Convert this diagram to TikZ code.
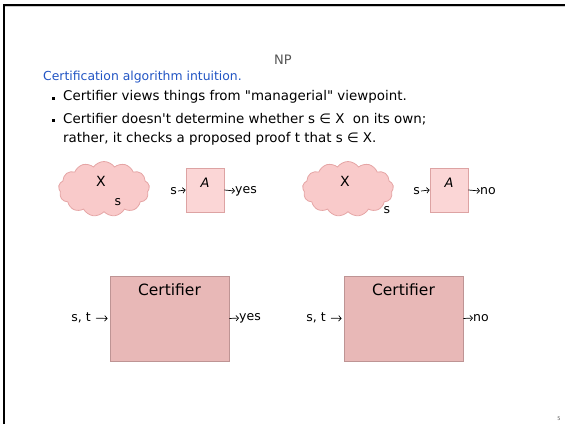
\documentclass[tikz,border=0pt]{standalone}
\usepackage{fontspec}
\setmainfont{DejaVu Sans}[Ligatures=TeXOff]
\usetikzlibrary{shapes.symbols,arrows.meta}
\definecolor{titlegray}{HTML}{555555}
\definecolor{headblue}{HTML}{2255C4}
\definecolor{cloudfill}{HTML}{F9CACA}
\definecolor{clouddraw}{HTML}{E5A5A5}
\definecolor{afill}{HTML}{FBD6D6}
\definecolor{adraw}{HTML}{DDA3A3}
\definecolor{certfill}{HTML}{E8B8B7}
\definecolor{certdraw}{HTML}{BE9494}
\begin{document}
\begin{tikzpicture}[x=1pt,y=-1pt,
  body/.style={font=\fontsize{13.4}{16}\selectfont, inner sep=0pt},
  lbl/.style={font=\fontsize{12.5}{15}\selectfont, inner sep=0pt},
  cloudsty/.style={cloud, cloud puffs=13, cloud puff arc=110, aspect=1.6,
    minimum width=91pt, minimum height=55pt, inner sep=0pt,
    fill=cloudfill, draw=clouddraw, line width=0.8pt},
  abox/.style={rectangle, minimum width=38pt, minimum height=44pt,
    fill=afill, draw=adraw, line width=0.8pt, inner sep=0pt},
  certbox/.style={rectangle, minimum width=119pt, minimum height=85pt,
    fill=certfill, draw=certdraw, line width=0.8pt, inner sep=0pt},
  arr/.style={-{Straight Barb[length=2.5pt,width=5.5pt]}, line width=0.7pt},
  bullet/.style={rectangle, fill=black, minimum size=3pt, inner sep=0pt}
]
\useasboundingbox (0,0) rectangle (565,424);
% frame
\draw[line width=2pt] (4,424) -- (4,5) -- (565,5);
\draw[gray!40, line width=0.6pt] (5,6.6) -- (565,6.6);

% title and text
\node[font=\fontsize{13}{15}\selectfont, text=titlegray, inner sep=0pt] (np) at (283,60) {NP};
\node[font=\fontsize{12.4}{15}\selectfont, inner sep=0pt, text=headblue, anchor=west] (head) at (43,77) {Certification algorithm intuition.};
\node[bullet] (b1) at (53,98) {};
\node[body, anchor=west] (t1) at (63,97) {Certifier views things from "managerial" viewpoint.};
\node[bullet] (b2) at (53,120) {};
\node[body, anchor=west] (t2) at (63,119) {Certifier doesn't determine whether s ∈ X\ \ on its own;};
\node[body, anchor=west] (t3) at (63,139) {rather, it checks a proposed proof t that s ∈ X.};

% top-left group
\node[cloudsty] (c1) at (104,189) {};
\node[lbl, font=\fontsize{14}{16}\selectfont] (x1) at (101,181) {X};
\node[lbl] (s1) at (118,202) {s};
\node[lbl, anchor=east] (si1) at (177,191) {s};
\node[abox] (a1) at (205,190) {};
\node[lbl, font=\itshape\fontsize{13}{15}\selectfont] (al1) at (205,183) {A};
\node[lbl, anchor=west] (y1) at (235,191) {yes};
\draw[arr] (si1.east) ++(1,0) -- (a1.west);
\draw[arr] (a1.east) -- (y1.west);

% top-right group
\node[cloudsty] (c2) at (348,189) {};
\node[lbl, font=\fontsize{14}{16}\selectfont] (x2) at (345,181) {X};
\node[lbl] (s2) at (387,210) {s};
\node[lbl, anchor=east] (si2) at (420,191) {s};
\node[abox] (a2) at (449,190) {};
\node[lbl, font=\itshape\fontsize{13}{15}\selectfont] (al2) at (449,183) {A};
\node[lbl, anchor=west] (n2) at (480,191) {no};
\draw[arr] (si2.east) ++(1,0) -- (a2.west);
\draw[arr] (a2.east) -- (n2.west);

% bottom-left group
\node[certbox] (k1) at (169.5,318.5) {};
\node[lbl, font=\fontsize{15.5}{18}\selectfont] (kl1) at (169.5,290) {Certifier};
\node[lbl, anchor=east] (st1) at (91,318) {s, t};
\node[lbl, anchor=west] (y3) at (239,318) {yes};
\draw[arr, shorten <=5pt, shorten >=2pt] (st1.east) -- (k1.west);
\draw[arr] (k1.east) -- (y3.west);

% bottom-right group
\node[certbox] (k2) at (403.5,318.5) {};
\node[lbl, font=\fontsize{15.5}{18}\selectfont] (kl2) at (403.5,290) {Certifier};
\node[lbl, anchor=east] (st2) at (326,318) {s, t};
\node[lbl, anchor=west] (n4) at (473,318) {no};
\draw[arr, shorten <=5pt, shorten >=2pt] (st2.east) -- (k2.west);
\draw[arr] (k2.east) -- (n4.west);

% page number
\node[font=\fontsize{5}{6}\selectfont, text=titlegray, inner sep=0pt] (pg) at (559,419) {5};
\end{tikzpicture}
\end{document}
